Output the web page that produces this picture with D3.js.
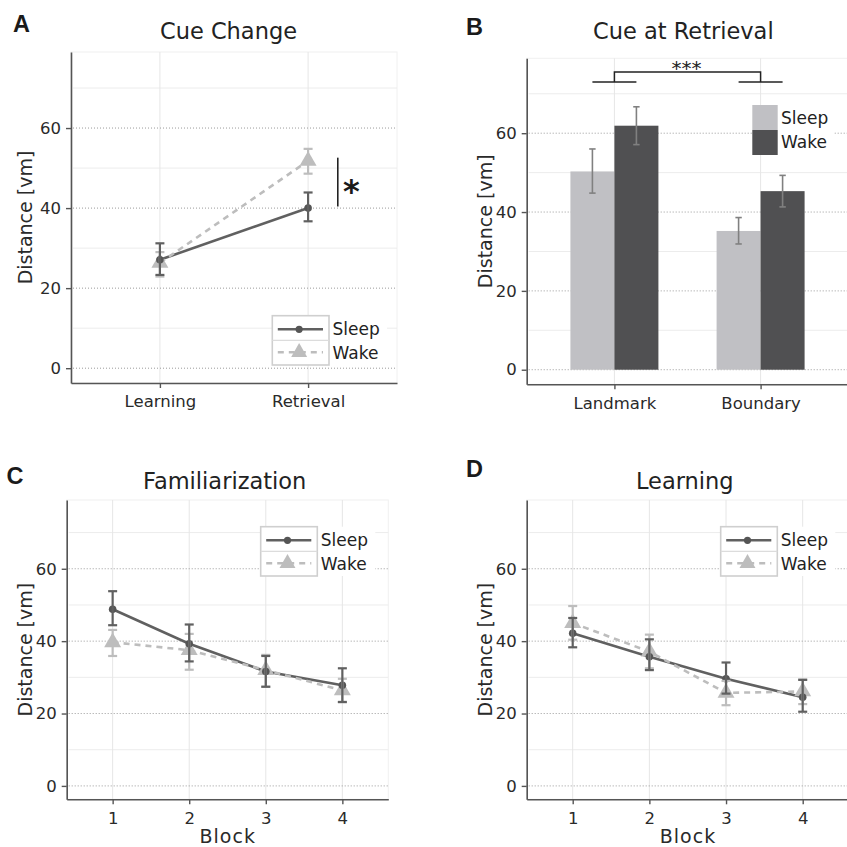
<!DOCTYPE html>
<html>
<head>
<meta charset="utf-8">
<script src="https://cdn.jsdelivr.net/npm/d3@7"></script>
<style>
  body { margin: 0; background: #fff; }
  svg { display: block; font-family: "DejaVu Sans", Verdana, sans-serif; }
</style>
</head>
<body>
<svg id="fig" width="847" height="847"></svg>
<script>
// ---- data ----
var groups = ["Sleep", "Wake"];
var yTicks = [0, 20, 40, 60];
var yMinor = [10, 30, 50, 70];
var yDomain = [-3.7, 79];

// A: cue change
var sessions = ["Learning", "Retrieval"];
var cueSleep = [27.1, 40.0];
var cueSleepLo = [23.3, 36.7];
var cueSleepHi = [31.2, 43.9];
var cueWake = [26.3, 51.8];
var cueWakeLo = [22.9, 48.6];
var cueWakeHi = [29.0, 54.8];
var cueSig = [40.4, 52.6];

// B: cue at retrieval
var cueTypes = ["Landmark", "Boundary"];
var retSleep = [50.3, 35.2];
var retSleepLo = [44.8, 31.9];
var retSleepHi = [56.0, 38.6];
var retWake = [61.9, 45.3];
var retWakeLo = [57.1, 41.3];
var retWakeHi = [66.7, 49.3];
var retBracket = [73, 75.5];

// C: familiarization
var blocks = ["1", "2", "3", "4"];
var famSleep = [48.8, 39.3, 31.6, 27.8];
var famSleepLo = [44.4, 34.4, 27.4, 23.2];
var famSleepHi = [53.8, 44.6, 35.9, 32.5];
var famWake = [39.7, 37.5, 32.0, 26.4];
var famWakeLo = [35.9, 32.1, 27.4, 23.1];
var famWakeHi = [43.1, 42.0, 36.2, 29.6];

// D: learning
var learnSleep = [42.2, 35.7, 29.6, 24.5];
var learnSleepLo = [38.3, 32.0, 25.5, 20.5];
var learnSleepHi = [46.4, 40.5, 34.1, 29.3];
var learnWake = [45.0, 37.1, 25.7, 26.1];
var learnWakeLo = [40.4, 32.5, 22.3, 22.6];
var learnWakeHi = [49.7, 41.8, 29.0, 29.4];

var sleepColor = "#606060";
var wakeColor = "#bdbdbd";

var svg = d3.select("#fig");

function series(cats, m, lo, hi) {
  return cats.map(function(c, i) { return { cat: c, v: m[i], lo: lo[i], hi: hi[i] }; });
}

// shared frame: grid, axes, title, panel letter
function drawFrame(p, cats) {
  var g = svg.append("g");
  var y = d3.scaleLinear().domain(yDomain).range([p.bottom, p.top]);
  var x = d3.scalePoint().domain(cats).range([p.left, p.right]).padding(0.6);

  g.append("rect")
    .attr("x", p.left).attr("y", p.top)
    .attr("width", p.right - p.left).attr("height", p.bottom - p.top)
    .attr("fill", "none").attr("stroke", "#f0f0f0");

  g.selectAll(".minor").data(yMinor).enter().append("line")
    .attr("x1", p.left + 2).attr("x2", p.right)
    .attr("y1", y).attr("y2", y)
    .attr("stroke", "#ececec").attr("stroke-width", 1);

  g.selectAll(".vgrid").data(cats).enter().append("line")
    .attr("x1", x).attr("x2", x)
    .attr("y1", p.top).attr("y2", p.bottom)
    .attr("stroke", "#e6e6e6").attr("stroke-width", 1);

  g.selectAll(".major").data(yTicks).enter().append("line")
    .attr("x1", p.left + 2).attr("x2", p.right)
    .attr("y1", y).attr("y2", y)
    .attr("stroke", "#9a9a9a").attr("stroke-width", 1)
    .attr("stroke-dasharray", "1,2");

  var yAx = g.append("g")
    .attr("transform", "translate(" + p.left + ",0)")
    .call(d3.axisLeft(y).tickValues(yTicks).tickSize(5).tickSizeOuter(0).tickPadding(5));
  var xAx = g.append("g")
    .attr("transform", "translate(0," + p.bottom + ")")
    .call(d3.axisBottom(x).tickSize(5).tickSizeOuter(0).tickPadding(7.5));

  [yAx, xAx].forEach(function(a) {
    a.select(".domain").attr("stroke", "#555").attr("stroke-width", 1.6);
    a.selectAll(".tick line").attr("stroke", "#555").attr("stroke-width", 1.4);
    a.selectAll(".tick text").attr("fill", "#2a2a2a").style("font-size", "16.5px")
      .style("font-family", "'DejaVu Sans', Verdana, sans-serif");
  });

  g.append("text")
    .attr("transform", "translate(" + p.ylabelX + "," + ((p.top + p.bottom) / 2) + ") rotate(-90)")
    .attr("text-anchor", "middle").attr("dy", "0.36em")
    .attr("fill", "#2a2a2a").style("font-size", "19px")
    .text("Distance [vm]");

  if (p.xlabel) {
    g.append("text")
      .attr("x", p.xlabelX).attr("y", p.xlabelY)
      .attr("text-anchor", "middle")
      .attr("fill", "#2a2a2a").style("font-size", "19px")
      .style("letter-spacing", "1px")
      .text(p.xlabel);
  }

  g.append("text")
    .attr("x", p.titleX).attr("y", p.titleY)
    .attr("text-anchor", "middle")
    .attr("fill", "#222").style("font-size", "22.5px")
    .text(p.title);

  g.append("text")
    .attr("x", p.letterX).attr("y", p.letterY)
    .attr("fill", "#1a1a1a")
    .style("font-family", "'Liberation Sans', Arial, sans-serif")
    .style("font-weight", "bold").style("font-size", "23.5px")
    .text(p.letter);

  return { g: g, x: x, y: y };
}

function errorBars(g, x, y, data, color, cap) {
  var e = g.append("g");
  e.selectAll("line.v").data(data).enter().append("line")
    .attr("x1", function(d) { return x(d.cat); })
    .attr("x2", function(d) { return x(d.cat); })
    .attr("y1", function(d) { return y(d.lo); })
    .attr("y2", function(d) { return y(d.hi); })
    .attr("stroke", color).attr("stroke-width", 2.2);
  ["lo", "hi"].forEach(function(k) {
    e.selectAll("line." + k).data(data).enter().append("line")
      .attr("x1", function(d) { return x(d.cat) - cap; })
      .attr("x2", function(d) { return x(d.cat) + cap; })
      .attr("y1", function(d) { return y(d[k]); })
      .attr("y2", function(d) { return y(d[k]); })
      .attr("stroke", color).attr("stroke-width", 2.2);
  });
}

function drawLegend(g, L) {
  g.append("rect")
    .attr("x", L.x).attr("y", L.y)
    .attr("width", L.w + 58).attr("height", L.h)
    .attr("fill", "#fff");
  g.append("rect")
    .attr("x", L.x).attr("y", L.y)
    .attr("width", L.w).attr("height", L.h)
    .attr("fill", "#fff").attr("stroke", "#cfcfcf").attr("stroke-width", 1.6);
  g.append("line")
    .attr("x1", L.x).attr("x2", L.x + L.w)
    .attr("y1", L.y + L.h / 2).attr("y2", L.y + L.h / 2)
    .attr("stroke", "#dcdcdc").attr("stroke-width", 1.2);

  var r1 = L.y + 13.6, r2 = L.y + 36.6, mx = L.x + L.w / 2 - 1.5;
  g.append("line")
    .attr("x1", L.x + 5.5).attr("x2", L.x + L.w - 6)
    .attr("y1", r1).attr("y2", r1)
    .attr("stroke", sleepColor).attr("stroke-width", 2.5);
  g.append("circle").attr("cx", mx).attr("cy", r1).attr("r", 3.6).attr("fill", "#555");
  g.append("line")
    .attr("x1", L.x + 5.5).attr("x2", L.x + L.w - 6)
    .attr("y1", r2).attr("y2", r2)
    .attr("stroke", wakeColor).attr("stroke-width", 2.5)
    .attr("stroke-dasharray", "6,5");
  g.append("path")
    .attr("transform", "translate(" + mx + "," + r2 + ")")
    .attr("d", d3.symbol().type(d3.symbolTriangle).size(110)())
    .attr("fill", wakeColor);

  groups.forEach(function(name, i) {
    g.append("text")
      .attr("x", L.x + L.w + 3.5).attr("y", L.y + (i === 0 ? 19.4 : 43))
      .attr("fill", "#222").style("font-size", "17px")
      .text(name);
  });
}

function drawLinePanel(p, cats, sleep, wake) {
  var f = drawFrame(p, cats);
  var g = f.g, x = f.x, y = f.y;
  var line = d3.line().x(function(d) { return x(d.cat); }).y(function(d) { return y(d.v); });

  g.append("path").datum(sleep).attr("d", line)
    .attr("fill", "none").attr("stroke", sleepColor).attr("stroke-width", 2.6);
  g.append("path").datum(wake).attr("d", line)
    .attr("fill", "none").attr("stroke", wakeColor).attr("stroke-width", 2.6)
    .attr("stroke-dasharray", "6,5");

  g.selectAll(".tri").data(wake).enter().append("path")
    .attr("transform", function(d) { return "translate(" + x(d.cat) + "," + y(d.v) + ")"; })
    .attr("d", d3.symbol().type(d3.symbolTriangle).size(125)())
    .attr("fill", wakeColor);
  g.selectAll(".dot").data(sleep).enter().append("circle")
    .attr("cx", function(d) { return x(d.cat); })
    .attr("cy", function(d) { return y(d.v); })
    .attr("r", 3.8).attr("fill", "#555");

  errorBars(g, x, y, wake, wakeColor, 4.5);
  errorBars(g, x, y, sleep, sleepColor, 4.5);

  drawLegend(g, p.legend);
  return f;
}

// ---- panel A ----
var pA = { left: 71, right: 397, top: 52, bottom: 383,
  title: "Cue Change", titleX: 228.5, titleY: 39,
  letter: "A", letterX: 13, letterY: 31.5, ylabelX: 25,
  legend: { x: 272.3, y: 315.7, w: 56.7, h: 49.3 } };
var fA = drawLinePanel(pA, sessions,
  series(sessions, cueSleep, cueSleepLo, cueSleepHi),
  series(sessions, cueWake, cueWakeLo, cueWakeHi));
var sx = fA.x("Retrieval") + 29.7;
fA.g.append("line")
  .attr("x1", sx).attr("x2", sx)
  .attr("y1", fA.y(cueSig[1])).attr("y2", fA.y(cueSig[0]))
  .attr("stroke", "#222").attr("stroke-width", 1.6);
fA.g.append("text")
  .attr("x", sx + 13.5).attr("y", fA.y((cueSig[0] + cueSig[1]) / 2) + 20)
  .attr("text-anchor", "middle")
  .attr("fill", "#1a1a1a").style("font-weight", "bold").style("font-size", "32px")
  .text("*");

// ---- panel B ----
var pB = { left: 526.7, right: 848.3, top: 58.3, bottom: 384.3,
  title: "Cue at Retrieval", titleX: 683.3, titleY: 39.3,
  letter: "B", letterX: 466, letterY: 35, ylabelX: 485 };
var fB = drawFrame(pB, cueTypes);
var xSub = d3.scaleBand().domain(groups).range([-44, 44]);
var barColor = d3.scaleOrdinal().domain(groups).range(["#c0c0c4", "#505052"]);
var barData = [];
cueTypes.forEach(function(c, i) {
  barData.push({ cat: c, group: "Sleep", v: retSleep[i], lo: retSleepLo[i], hi: retSleepHi[i] });
  barData.push({ cat: c, group: "Wake", v: retWake[i], lo: retWake[i] - (retWake[i] - retWakeLo[i]), hi: retWakeHi[i] });
});
// bars go under the axes
var barG = fB.g.insert("g", "g");
barG.selectAll("rect").data(barData).enter().append("rect")
  .attr("x", function(d) { return fB.x(d.cat) + xSub(d.group); })
  .attr("width", xSub.bandwidth())
  .attr("y", function(d) { return fB.y(d.v); })
  .attr("height", function(d) { return fB.y(0) - fB.y(d.v); })
  .attr("fill", function(d) { return barColor(d.group); });
var errG = fB.g.append("g");
var bx = function(d) { return fB.x(d.cat) + xSub(d.group) + xSub.bandwidth() / 2; };
errG.selectAll("line.v").data(barData).enter().append("line")
  .attr("x1", bx).attr("x2", bx)
  .attr("y1", function(d) { return fB.y(d.lo); })
  .attr("y2", function(d) { return fB.y(d.hi); })
  .attr("stroke", "#808080").attr("stroke-width", 1.6);
["lo", "hi"].forEach(function(k) {
  errG.selectAll("line." + k).data(barData).enter().append("line")
    .attr("x1", function(d) { return bx(d) - 3.2; })
    .attr("x2", function(d) { return bx(d) + 3.2; })
    .attr("y1", function(d) { return fB.y(d[k]); })
    .attr("y2", function(d) { return fB.y(d[k]); })
    .attr("stroke", "#808080").attr("stroke-width", 1.6);
});

// significance bracket
var bLow = fB.y(retBracket[0]), bHigh = fB.y(retBracket[1]);
cueTypes.forEach(function(c) {
  fB.g.append("line")
    .attr("x1", bx({ cat: c, group: "Sleep" })).attr("x2", bx({ cat: c, group: "Wake" }))
    .attr("y1", bLow).attr("y2", bLow)
    .attr("stroke", "#222").attr("stroke-width", 1.5);
});
fB.g.append("path")
  .attr("d", "M" + fB.x("Landmark") + "," + bLow + "V" + bHigh + "H" + fB.x("Boundary") + "V" + bLow)
  .attr("fill", "none").attr("stroke", "#222").attr("stroke-width", 1.5);
fB.g.append("text")
  .attr("x", (fB.x("Landmark") + fB.x("Boundary")) / 2 - 1)
  .attr("y", bLow - 6.5)
  .attr("text-anchor", "middle")
  .attr("fill", "#222").style("font-size", "20px")
  .text("***");

// bar legend
var lg = fB.g.append("g");
lg.append("rect").attr("x", 752.3).attr("y", 105).attr("width", 82).attr("height", 50).attr("fill", "#fff");
groups.forEach(function(name, i) {
  lg.append("rect")
    .attr("x", 752.3).attr("y", 105 + i * 25)
    .attr("width", 25.4).attr("height", 25)
    .attr("fill", barColor(name));
  lg.append("text")
    .attr("x", 781).attr("y", i === 0 ? 124 : 148.3)
    .attr("fill", "#222").style("font-size", "17px")
    .text(name);
});

// ---- panel C ----
var pC = { left: 66.7, right: 388.3, top: 500, bottom: 799.3,
  title: "Familiarization", titleX: 224.7, titleY: 489.3,
  letter: "C", letterX: 6.5, letterY: 484, ylabelX: 25,
  xlabel: "Block", xlabelX: 227.7, xlabelY: 843,
  legend: { x: 260.7, y: 526.7, w: 56.6, h: 49.3 } };
drawLinePanel(pC, blocks,
  series(blocks, famSleep, famSleepLo, famSleepHi),
  series(blocks, famWake, famWakeLo, famWakeHi));

// ---- panel D ----
var pD = { left: 526.7, right: 848.7, top: 500, bottom: 799.3,
  title: "Learning", titleX: 684.8, titleY: 489.3,
  letter: "D", letterX: 466, letterY: 476.7, ylabelX: 485,
  xlabel: "Block", xlabelX: 688, xlabelY: 843,
  legend: { x: 720.7, y: 526.7, w: 56.6, h: 49.3 } };
drawLinePanel(pD, blocks,
  series(blocks, learnSleep, learnSleepLo, learnSleepHi),
  series(blocks, learnWake, learnWakeLo, learnWakeHi));
</script>
</body>
</html>
